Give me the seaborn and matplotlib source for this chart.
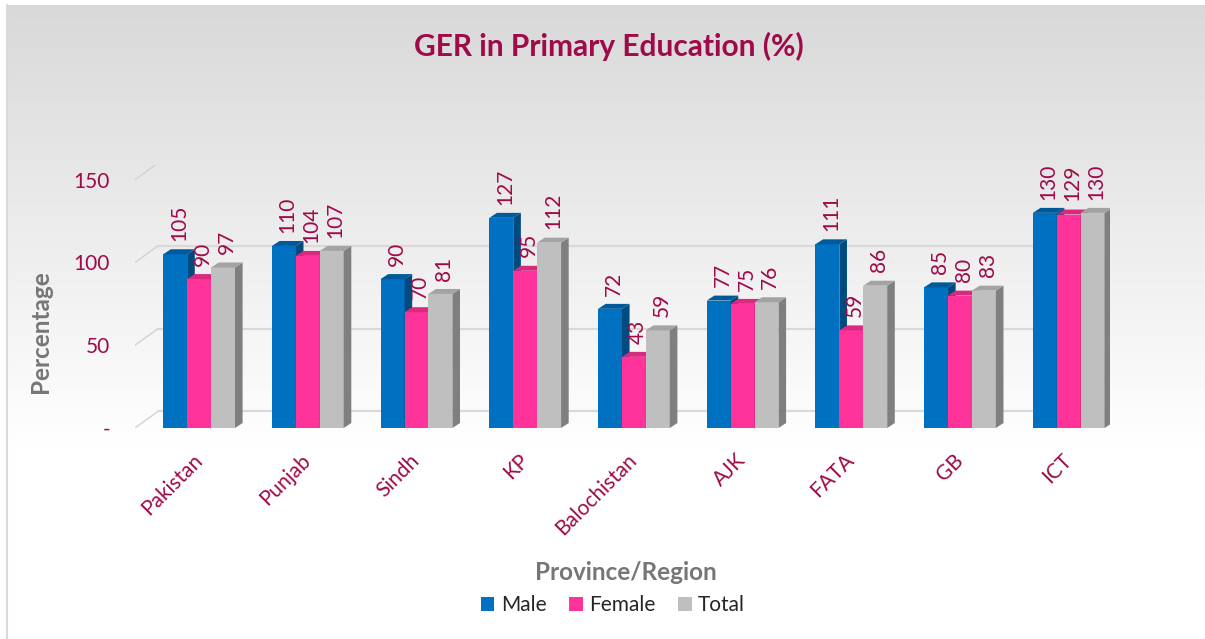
import numpy as np
import pandas as pd
import matplotlib.pyplot as plt
import seaborn as sns
from matplotlib.patches import Polygon

# Data
regions = ["Pakistan", "Punjab", "Sindh", "KP", "Balochistan", "AJK", "FATA", "GB", "ICT"]
male = [105, 110, 90, 127, 72, 77, 111, 85, 130]
female = [90, 104, 70, 95, 43, 75, 59, 80, 129]
total = [97, 107, 81, 112, 59, 76, 86, 83, 130]
series = ["Male", "Female", "Total"]
y_ticks = [0, 50, 100, 150]
y_tick_labels = ["-", "50", "100", "150"]

df = pd.DataFrame({
    "Region": regions * 3,
    "Series": ["Male"] * 9 + ["Female"] * 9 + ["Total"] * 9,
    "Value": male + female + total,
})

colors = {"Male": "#0070C0", "Female": "#FF3399", "Total": "#BFBFBF"}
side_colors = {"Male": "#004a80", "Female": "#b8246e", "Total": "#7f7f7f"}
top_colors = {"Male": "#005a9a", "Female": "#d92a80", "Total": "#a3a3a3"}
maroon = "#9E0A4A"
grey_txt = "#767676"

sns.set_theme(style="white")
plt.rcParams["font.family"] = ["Lato", "DejaVu Sans"]

W, H = 1205, 639
fig = plt.figure(figsize=(W / 100, H / 100), dpi=100)

# background gradient + border
bg = fig.add_axes([0, 0, 1, 1], zorder=0)
bg.axis("off")
rows = np.arange(H)
t = np.clip((rows - 5) / 440.0, 0, 1)
shade = 0.85 + 0.15 * t
shade[rows < 5] = 1.0
img = np.repeat(shade[:, None], W, axis=1)
img[:, :7] = 1.0
bg.imshow(np.dstack([img, img, img]), extent=[0, 1, 0, 1], aspect="auto")
bg.plot([7.5 / W, 7.5 / W], [0, 1 - 5 / H], color="#d9d9d9", lw=1.5)
bg.set_xlim(0, 1)
bg.set_ylim(0, 1)

# plot area: x=0 at px 199, 108.75 px per category; y=0 at px 428
x_left, x_right = -0.59, 8.38
y_top = 159
ppu = 1.655
ax = fig.add_axes([135 / W, (H - 428) / H, 975 / W, (y_top * ppu) / H], zorder=2)
ax.patch.set_alpha(0)

sns.barplot(data=df, x="Region", y="Value", hue="Series", palette=colors,
            width=0.66, saturation=1, ax=ax, linewidth=0, hue_order=series)

# back wall grid lines with a perspective offset
gdx, gdy = 0.21, 10
for v in y_ticks:
    ax.plot([x_left + gdx, x_right], [v + gdy, v + gdy], color="#d9d9d9", lw=1.6, zorder=1)
    ax.plot([x_left, x_left + gdx], [v, v + gdy], color="#d2d2d2", lw=1, zorder=1)

# fake 3D faces
dx, dy = 0.07, 3.0
for i, (cont, s) in enumerate(zip(ax.containers, series)):
    for bar in cont:
        x0, w, h = bar.get_x(), bar.get_width(), bar.get_height()
        z = 3 + i
        bar.set_zorder(z)
        side = Polygon([(x0 + w, 0), (x0 + w + dx, dy), (x0 + w + dx, h + dy), (x0 + w, h)],
                       closed=True, color=side_colors[s], lw=0, zorder=z)
        top = Polygon([(x0, h), (x0 + dx, h + dy), (x0 + w + dx, h + dy), (x0 + w, h)],
                      closed=True, color=top_colors[s], lw=0, zorder=z)
        ax.add_patch(side)
        ax.add_patch(top)
        ax.annotate(f"{h:.0f}", (x0 + w / 2 + dx / 2, h + dy), xytext=(0, 6),
                    textcoords="offset points", rotation=90, ha="center", va="bottom",
                    color=maroon, fontsize=15, zorder=10)

ax.set_xlim(x_left, x_right)
ax.set_ylim(0, y_top)
ax.set_yticks(y_ticks)
ax.set_yticklabels(y_tick_labels, color=maroon, fontsize=15)
ax.tick_params(axis="y", length=0, pad=18)
ax.tick_params(axis="x", length=0, pad=21)
plt.setp(ax.get_xticklabels(), rotation=45, ha="right", va="center",
         rotation_mode="anchor", color=maroon, fontsize=15)
for sp in ax.spines.values():
    sp.set_visible(False)
ax.set_xlabel("")
ax.set_ylabel("")

sns.move_legend(ax, "center", bbox_to_anchor=(613 / W, 1 - 605 / H),
                bbox_transform=fig.transFigure, ncol=3, frameon=False, title=None,
                fontsize=15, handlelength=0.65, handleheight=0.65,
                handletextpad=0.3, columnspacing=1.1)

fig.text(609 / W, 1 - 46 / H, "GER in Primary Education (%)", ha="center", va="center",
         color=maroon, fontsize=21.5, fontweight="bold")
fig.text(626 / W, 1 - 572 / H, "Province/Region", ha="center", va="center",
         color=grey_txt, fontsize=17.5, fontweight="bold")
fig.text(40 / W, 1 - 332 / H, "Percentage", ha="center", va="center", rotation=90,
         color=grey_txt, fontsize=17.5, fontweight="bold")

fig.savefig("out.png", dpi=100)
